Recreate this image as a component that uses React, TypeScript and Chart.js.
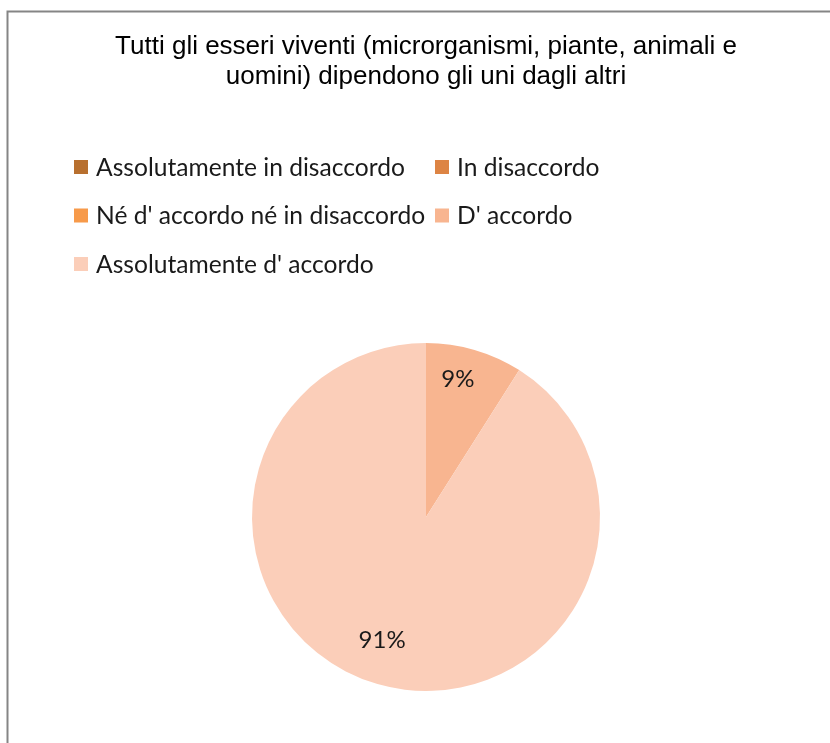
import React, { useEffect, useRef } from "react";
import { Chart, registerables } from "chart.js";

Chart.register(...registerables);

const titleLines = [
  "Tutti gli esseri viventi (microrganismi, piante, animali e",
  "uomini) dipendono gli uni dagli altri",
];
const categories = [
  "Assolutamente in disaccordo",
  "In disaccordo",
  "Né d' accordo né in disaccordo",
  "D' accordo",
  "Assolutamente d' accordo",
];
const values = [0, 0, 0, 9, 91];
const percentLabels = ["0%", "0%", "0%", "9%", "91%"];
const colors = ["#B8702F", "#DD8444", "#F79A4A", "#F8B590", "#FBCEB9"];

const LEGEND_FONT = '24.6px Lato, "Noto Sans", sans-serif';
const LABEL_FONT = '24px Lato, "Noto Sans", sans-serif';

const framePlugin = {
  id: "frame",
  beforeDraw(chart: any) {
    const ctx = chart.ctx;
    ctx.save();
    ctx.fillStyle = "#fff";
    ctx.fillRect(0, 0, chart.width, chart.height);
    ctx.strokeStyle = "#858585";
    ctx.lineWidth = 2;
    ctx.beginPath();
    ctx.moveTo(7.5, chart.height + 5);
    ctx.lineTo(7.5, 11.5);
    ctx.lineTo(chart.width + 5, 11.5);
    ctx.stroke();
    ctx.restore();
  },
};

const legendPlugin = {
  id: "gridLegend",
  afterDraw(chart: any) {
    const ctx = chart.ctx;
    const colX = [74, 435];
    const rowY = [167, 215.5, 264];
    const box = 14;
    ctx.save();
    ctx.font = LEGEND_FONT;
    ctx.textBaseline = "middle";
    ctx.textAlign = "left";
    categories.forEach((label, i) => {
      const x = colX[i % 2];
      const y = rowY[Math.floor(i / 2)];
      ctx.fillStyle = colors[i];
      ctx.fillRect(x, y - box / 2, box, box);
      ctx.fillStyle = "#1a1a1a";
      ctx.fillText(label, x + 22, y + 1);
    });
    ctx.restore();
  },
};

const dataLabelPlugin = {
  id: "pieLabels",
  afterDatasetsDraw(chart: any) {
    const ctx = chart.ctx;
    const meta = chart.getDatasetMeta(0);
    ctx.save();
    ctx.font = LABEL_FONT;
    ctx.fillStyle = "#1a1a1a";
    ctx.textAlign = "center";
    ctx.textBaseline = "middle";
    meta.data.forEach((arc: any, i: number) => {
      if (!values[i]) return;
      const { x, y, startAngle, endAngle, outerRadius } = arc.getProps(
        ["x", "y", "startAngle", "endAngle", "outerRadius"],
        true
      );
      const mid = (startAngle + endAngle) / 2;
      const r = outerRadius * 0.78;
      ctx.fillText(percentLabels[i], x + Math.cos(mid) * r - 6, y + Math.sin(mid) * r - 7);
    });
    ctx.restore();
  },
};

export default function App() {
  const canvasRef = useRef<HTMLCanvasElement | null>(null);

  useEffect(() => {
    if (!canvasRef.current) return;
    const chart = new Chart(canvasRef.current, {
      type: "pie",
      data: {
        labels: categories,
        datasets: [
          {
            data: values,
            backgroundColor: colors,
            borderWidth: 0,
          },
        ],
      },
      options: {
        animation: false,
        responsive: false,
        maintainAspectRatio: false,
        layout: { padding: { left: 100, right: 78, top: 0, bottom: 52 } },
        plugins: {
          legend: { display: false },
          tooltip: { enabled: false },
          title: {
            display: true,
            text: titleLines,
            color: "#000",
            font: { family: '"Liberation Sans", Arial, sans-serif', size: 26, weight: "normal", lineHeight: 1.154 },
            padding: { top: 32, bottom: 251 },
          },
        },
      },
      plugins: [framePlugin, legendPlugin, dataLabelPlugin],
    });
    return () => chart.destroy();
  }, []);

  return (
    <div style={{ position: "fixed", left: 0, top: 0, width: 830, height: 743, overflow: "hidden", background: "#fff" }}>
      <canvas ref={canvasRef} width={830} height={743} style={{ display: "block" }} />
    </div>
  );
}
